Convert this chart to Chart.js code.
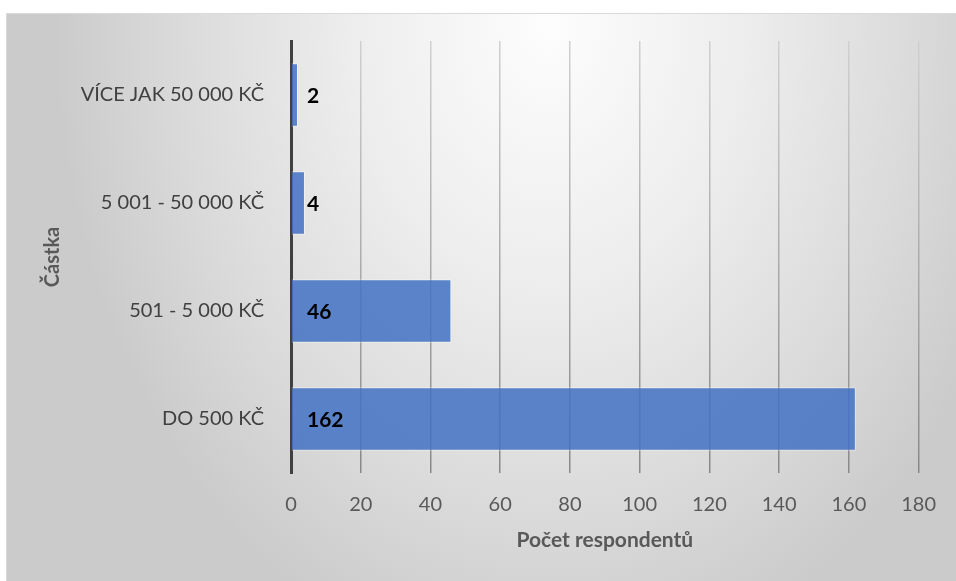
<!DOCTYPE html>
<html>
<head>
<meta charset="utf-8">
<script src="https://cdn.jsdelivr.net/npm/chart.js@4/dist/chart.umd.min.js"></script>
<style>
  html, body { margin: 0; padding: 0; background: #fff; }
  .wrap { position: relative; width: 956px; height: 581px; }
  .frame {
    position: absolute; left: 6px; top: 13px; width: 950px; height: 568px;
    box-sizing: border-box; border: 1px solid #d9d9d9; border-right: none; border-bottom: none;
    background: radial-gradient(ellipse 52% 115% at 57% 2%, #fdfdfd 0%, #ededed 40%, #dadada 75%, #cbcbcb 100%);
  }
  canvas { position: absolute; left: 0; top: 0; }
</style>
</head>
<body>
<div class="wrap">
  <div class="frame"></div>
  <canvas id="chart" width="956" height="581"></canvas>
</div>
<script>
const categories = ['VÍCE JAK 50 000 KČ', '5 001 - 50 000 KČ', '501 - 5 000 KČ', 'DO 500 KČ'];
const respondents = [2, 4, 46, 162];
const xTicks = [0, 20, 40, 60, 80, 100, 120, 140, 160, 180];
const xTitle = 'Počet respondentů';
const yTitle = 'Částka';

const fontFamily = 'Lato, "Open Sans", sans-serif';

// bold value labels sitting just right of the zero line
const valueLabels = {
  id: 'valueLabels',
  afterDatasetsDraw(chart) {
    const ctx = chart.ctx;
    const x0 = chart.scales.x.getPixelForValue(0);
    const meta = chart.getDatasetMeta(0);
    ctx.save();
    ctx.font = 'bold 21px ' + fontFamily;
    ctx.fillStyle = '#000';
    ctx.textAlign = 'left';
    ctx.textBaseline = 'middle';
    meta.data.forEach((bar, i) => {
      ctx.fillText(String(respondents[i]), x0 + 16, bar.y + 1);
    });
    ctx.restore();
  }
};

function gridGradient(context) {
  const area = context.chart.chartArea;
  if (!area) return '#aaa';
  const g = context.chart.ctx.createLinearGradient(0, area.top, 0, area.bottom);
  g.addColorStop(0, '#d0d0d0');
  g.addColorStop(1, '#888888');
  return g;
}

const chartArea = document.getElementById('chart');
const myChart = new Chart(chartArea, {
  type: 'bar',
  data: {
    labels: categories,
    datasets: [{
      data: respondents,
      backgroundColor: 'rgba(68, 114, 196, 0.86)',
      borderColor: 'rgba(255, 255, 255, 0.45)',
      borderWidth: 1,
      categoryPercentage: 1,
      barPercentage: 0.59
    }]
  },
  options: {
    indexAxis: 'y',
    responsive: false,
    animation: false,
    layout: { padding: { top: 41, right: 37, left: 0, bottom: 0 } },
    plugins: { legend: { display: false }, tooltip: { enabled: false } },
    scales: {
      x: {
        min: 0,
        max: 180,
        afterBuildTicks: scale => { scale.ticks = xTicks.map(v => ({ value: v })); },
        afterFit: scale => { scale.height = 108; },
        border: { display: false },
        grid: { color: gridGradient, lineWidth: 1.5, drawTicks: false },
        ticks: { color: '#595959', font: { family: fontFamily, size: 20 }, padding: 20 },
        title: {
          display: true, text: xTitle, color: '#595959',
          font: { family: fontFamily, size: 21, weight: 'bold' },
          padding: { top: 0, bottom: 28 }
        }
      },
      y: {
        afterFit: scale => { scale.width = 291; },
        border: { display: true, color: '#404040', width: 3 },
        grid: { display: false, drawTicks: false },
        ticks: { color: '#404040', font: { family: fontFamily, size: 20 }, padding: 27 },
        title: {
          display: true, text: yTitle, color: '#595959',
          font: { family: fontFamily, size: 20, weight: 'bold' },
          padding: { top: 41, bottom: 0 }
        }
      }
    }
  },
  plugins: [valueLabels]
});
</script>
</body>
</html>
